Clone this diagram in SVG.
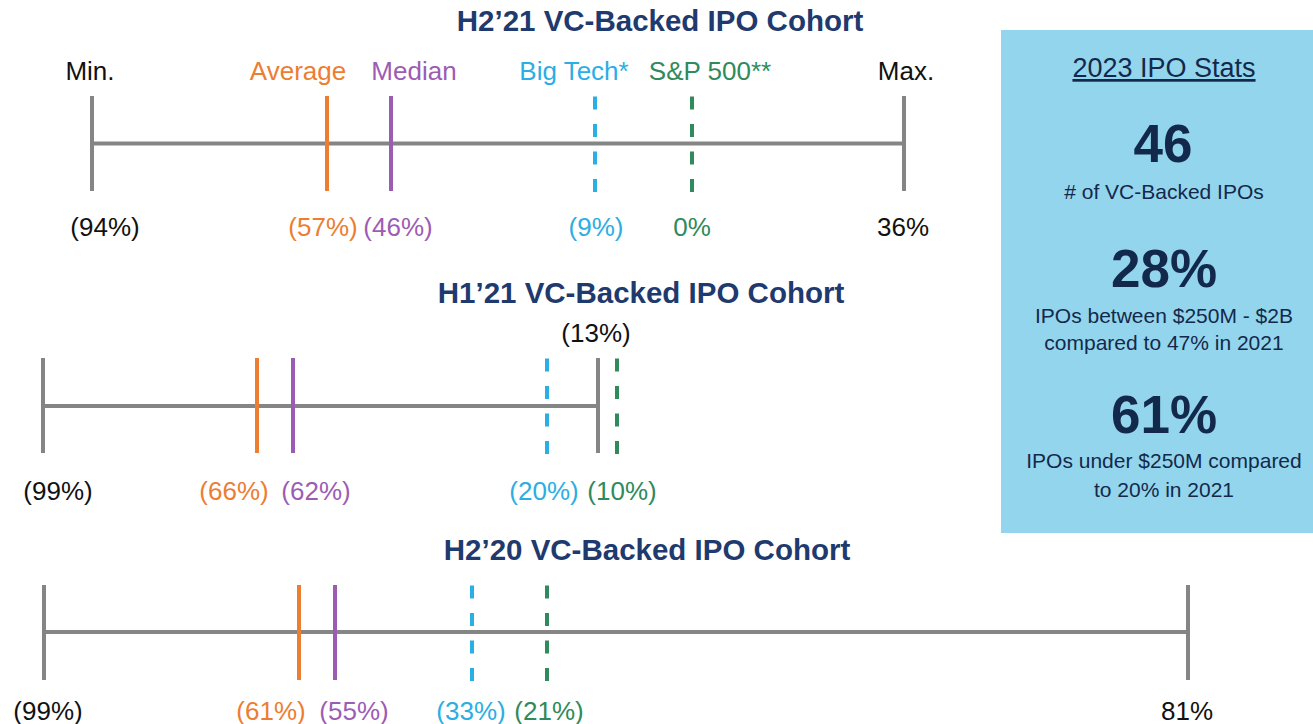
<svg xmlns="http://www.w3.org/2000/svg" width="1313" height="724" viewBox="0 0 1313 724">
<style>
text{font-family:"Liberation Sans",Arial,sans-serif;text-anchor:middle}
.title{font-size:29.5px;font-weight:bold;fill:#1F3A6E}
.lbl{font-size:26px}
.k{fill:#111}
.o{fill:#ED7D31}
.p{fill:#9D5CB4}
.b{fill:#2BAEE3}
.g{fill:#2F8A5C}
.axis{stroke:#858585;stroke-width:4;fill:none}
.avg{stroke:#ED7D31;stroke-width:4}
.med{stroke:#9D5CB4;stroke-width:4}
.bt{stroke:#2BAEE3;stroke-width:4;stroke-dasharray:13 14.5}
.sp{stroke:#2F8A5C;stroke-width:4;stroke-dasharray:13 14.5}
.st{fill:#13294B}
.big{font-size:53px;font-weight:bold}
.sm{font-size:21px}
</style>
<rect width="1313" height="724" fill="#fff"/>

<g id="cohort-h2-21">
<text class="title" x="660" y="31">H2’21 VC-Backed IPO Cohort</text>
<text class="lbl k" x="90" y="80">Min.</text>
<text class="lbl o" x="298" y="80">Average</text>
<text class="lbl p" x="414" y="80">Median</text>
<text class="lbl b" x="574" y="80">Big Tech*</text>
<text class="lbl g" x="710" y="80">S&amp;P 500**</text>
<text class="lbl k" x="906" y="80">Max.</text>
<g id="connectors-h2-21">
<path class="axis" d="M92 143.5H904M92 96V191M904 96V191"/>
<line class="avg" x1="327" y1="96" x2="327" y2="191"/>
<line class="med" x1="391" y1="96" x2="391" y2="191"/>
<line class="bt" x1="595" y1="96.5" x2="595" y2="192"/>
<line class="sp" x1="692" y1="96.5" x2="692" y2="192"/>
</g>
<text class="lbl k" x="105" y="236">(94%)</text>
<text class="lbl o" x="323" y="236">(57%)</text>
<text class="lbl p" x="398" y="236">(46%)</text>
<text class="lbl b" x="596" y="236">(9%)</text>
<text class="lbl g" x="692" y="236">0%</text>
<text class="lbl k" x="903" y="236">36%</text>
</g>

<g id="cohort-h1-21">
<text class="title" x="641" y="303">H1’21 VC-Backed IPO Cohort</text>
<text class="lbl k" x="596" y="342">(13%)</text>
<g id="connectors-h1-21">
<path class="axis" d="M43 406H598M43 358V453M598 358V453"/>
<line class="avg" x1="257" y1="358" x2="257" y2="453"/>
<line class="med" x1="293" y1="358" x2="293" y2="453"/>
<line class="bt" x1="547" y1="358.5" x2="547" y2="454"/>
<line class="sp" x1="617" y1="358.5" x2="617" y2="454"/>
</g>
<text class="lbl k" x="58" y="500">(99%)</text>
<text class="lbl o" x="234" y="500">(66%)</text>
<text class="lbl p" x="316" y="500">(62%)</text>
<text class="lbl b" x="544" y="500">(20%)</text>
<text class="lbl g" x="622" y="500">(10%)</text>
</g>

<g id="cohort-h2-20">
<text class="title" x="647" y="560">H2’20 VC-Backed IPO Cohort</text>
<g id="connectors-h2-20">
<path class="axis" d="M44 632H1188M44 585V680M1188 585V680"/>
<line class="avg" x1="299" y1="585" x2="299" y2="680"/>
<line class="med" x1="335" y1="585" x2="335" y2="680"/>
<line class="bt" x1="472" y1="585.5" x2="472" y2="681"/>
<line class="sp" x1="547" y1="585.5" x2="547" y2="681"/>
</g>
<text class="lbl k" x="48" y="720">(99%)</text>
<text class="lbl o" x="271" y="720">(61%)</text>
<text class="lbl p" x="354" y="720">(55%)</text>
<text class="lbl b" x="471" y="720">(33%)</text>
<text class="lbl g" x="549" y="720">(21%)</text>
<text class="lbl k" x="1187" y="720">81%</text>
</g>

<g id="stats-box">
<rect x="1001" y="30" width="312" height="503" fill="#93D5EC"/>
<text class="st" x="1164" y="77" font-size="27" text-decoration="underline">2023 IPO Stats</text>
<text class="st big" x="1163" y="162">46</text>
<text class="st sm" x="1164" y="199"># of VC-Backed IPOs</text>
<text class="st big" x="1164" y="287">28%</text>
<text class="st sm" x="1164" y="323">IPOs between $250M - $2B</text>
<text class="st sm" x="1164" y="350">compared to 47% in 2021</text>
<text class="st big" x="1164" y="433">61%</text>
<text class="st sm" x="1164" y="468">IPOs under $250M compared</text>
<text class="st sm" x="1164" y="497">to 20% in 2021</text>
</g>
</svg>
